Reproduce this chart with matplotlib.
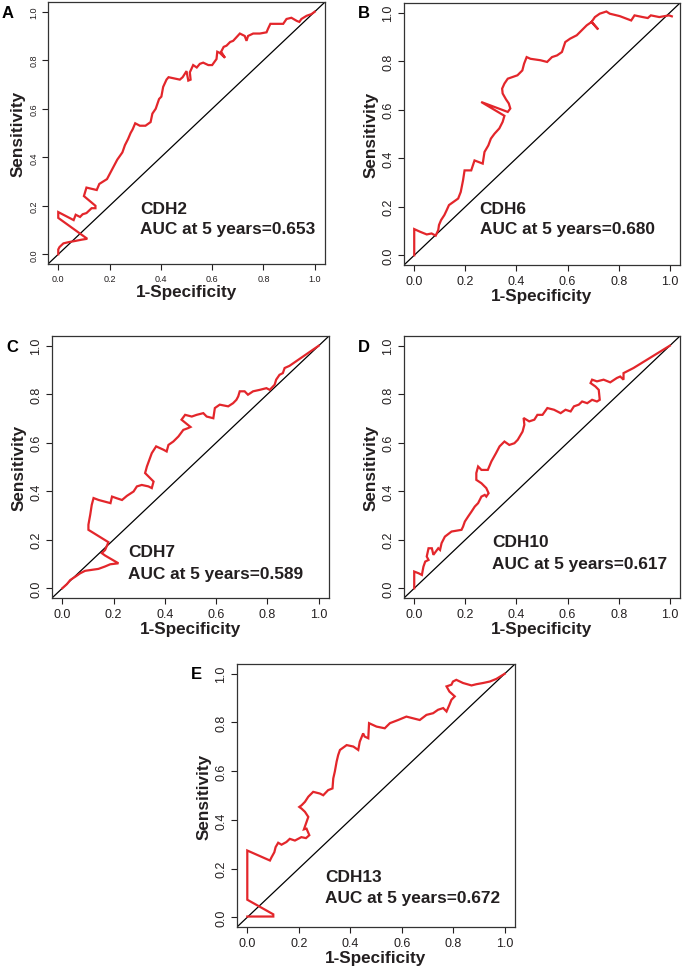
import numpy as np
import matplotlib
matplotlib.use("Agg")
import matplotlib.pyplot as plt

plt.rcParams['font.family'] = ['Liberation Sans', 'DejaVu Sans']

# ---------------------------------------------------------------
# ROC curves (1-Specificity, Sensitivity)
# ---------------------------------------------------------------
fpr_cdh2 = [0, 0, 0.005, 0.02, 0.04, 0.066, 0.09, 0.113, 0, 0, 0.06, 0.068, 0.085, 0.095,
            0.11, 0.13, 0.145, 0.145, 0.1, 0.11, 0.13, 0.15, 0.16, 0.175, 0.19, 0.2, 0.215,
            0.23, 0.25, 0.26, 0.272, 0.282, 0.29, 0.3, 0.318, 0.34, 0.36, 0.367, 0.38, 0.393,
            0.402, 0.409, 0.422, 0.43, 0.474, 0.485, 0.5, 0.507, 0.516, 0.513, 0.526, 0.54,
            0.552, 0.565, 0.585, 0.6, 0.617, 0.62, 0.63, 0.65, 0.635, 0.645, 0.656, 0.67,
            0.682, 0.695, 0.708, 0.727, 0.734, 0.74, 0.76, 0.786, 0.812, 0.818, 0.827, 0.85,
            0.877, 0.89, 0.909, 0.93, 0.94, 0.948, 0.968, 0.987, 1.0]
tpr_cdh2 = [0, 0.02, 0.03, 0.045, 0.05, 0.055, 0.06, 0.064, 0.15, 0.174, 0.141, 0.163, 0.154,
            0.165, 0.17, 0.19, 0.19, 0.2, 0.24, 0.275, 0.27, 0.265, 0.29, 0.3, 0.31, 0.33, 0.36,
            0.39, 0.42, 0.45, 0.475, 0.5, 0.515, 0.54, 0.53, 0.53, 0.545, 0.58, 0.6, 0.64,
            0.65, 0.69, 0.72, 0.73, 0.72, 0.73, 0.755, 0.716, 0.72, 0.75, 0.78, 0.77, 0.785,
            0.79, 0.78, 0.78, 0.805, 0.835, 0.83, 0.81, 0.835, 0.855, 0.86, 0.875, 0.88, 0.895,
            0.91, 0.9, 0.88, 0.9, 0.91, 0.91, 0.915, 0.93, 0.95, 0.95, 0.95, 0.97, 0.975, 0.962,
            0.958, 0.97, 0.983, 0.99, 1.0]

fpr_cdh6 = [0, 0, 0.023, 0.049, 0.068, 0.084, 0.094, 0.097, 0.105, 0.118, 0.127, 0.136,
            0.172, 0.182, 0.191, 0.197, 0.223, 0.236, 0.268, 0.275, 0.29, 0.3, 0.314, 0.333,
            0.346, 0.353, 0.262, 0.366, 0.376, 0.37, 0.359, 0.346, 0.344, 0.353, 0.366, 0.404,
            0.423, 0.43, 0.44, 0.455, 0.494, 0.52, 0.539, 0.559, 0.578, 0.591, 0.61, 0.636,
            0.655, 0.675, 0.694, 0.72, 0.694, 0.707, 0.726, 0.752, 0.765, 0.804, 0.849, 0.862,
            0.894, 0.914, 0.926, 0.959, 0.997, 1.008]
tpr_cdh6 = [0, 0.108, 0.097, 0.086, 0.09, 0.081, 0.104, 0.125, 0.145, 0.166, 0.186, 0.207,
            0.234, 0.261, 0.309, 0.35, 0.35, 0.391, 0.378, 0.426, 0.453, 0.481, 0.501, 0.523,
            0.55, 0.575, 0.632, 0.591, 0.605, 0.626, 0.643, 0.667, 0.687, 0.708, 0.728, 0.742,
            0.762, 0.79, 0.817, 0.81, 0.804, 0.797, 0.817, 0.824, 0.838, 0.879, 0.893, 0.907,
            0.927, 0.948, 0.962, 0.931, 0.962, 0.982, 0.996, 1.005, 0.996, 0.986, 0.968, 0.989,
            0.982, 0.978, 0.989, 0.982, 0.989, 0.985]

fpr_cdh7 = [0, 0.018, 0.031, 0.051, 0.07, 0.089, 0.115, 0.141, 0.167, 0.187, 0.219, 0.167,
            0.154, 0.167, 0.18, 0.102, 0.102, 0.109, 0.115, 0.122, 0.142, 0.188, 0.194, 0.213,
            0.233, 0.252, 0.278, 0.291, 0.31, 0.336, 0.349, 0.356, 0.323, 0.33, 0.349, 0.366,
            0.395, 0.407, 0.414, 0.433, 0.453, 0.472, 0.49, 0.5, 0.465, 0.479, 0.505, 0.524,
            0.55, 0.563, 0.589, 0.595, 0.614, 0.647, 0.666, 0.679, 0.686, 0.692, 0.711, 0.724,
            0.744, 0.77, 0.796, 0.809, 0.828, 0.834, 0.847, 0.86, 0.867, 0.886, 1.0]
tpr_cdh7 = [0, 0.017, 0.034, 0.048, 0.062, 0.072, 0.076, 0.08, 0.09, 0.099, 0.103, 0.135,
            0.145, 0.158, 0.19, 0.241, 0.262, 0.303, 0.344, 0.372, 0.364, 0.351, 0.378, 0.371,
            0.364, 0.381, 0.399, 0.42, 0.426, 0.42, 0.413, 0.44, 0.475, 0.502, 0.557, 0.585,
            0.571, 0.564, 0.591, 0.605, 0.626, 0.653, 0.66, 0.665, 0.695, 0.715, 0.708, 0.715,
            0.722, 0.708, 0.701, 0.743, 0.757, 0.75, 0.763, 0.777, 0.791, 0.812, 0.812, 0.798,
            0.812, 0.818, 0.825, 0.818, 0.839, 0.86, 0.88, 0.887, 0.908, 0.917, 1.0]

fpr_cdh10 = [0, 0, 0.017, 0.03, 0.036, 0.043, 0.056, 0.049, 0.056, 0.069, 0.075, 0.094, 0.101,
             0.107, 0.12, 0.146, 0.185, 0.191, 0.198, 0.211, 0.224, 0.237, 0.25, 0.263, 0.276,
             0.282, 0.291, 0.282, 0.263, 0.243, 0.243, 0.25, 0.263, 0.288, 0.302, 0.32, 0.334,
             0.353, 0.372, 0.392, 0.405, 0.424, 0.431, 0.428, 0.45, 0.47, 0.482, 0.502, 0.521,
             0.547, 0.573, 0.592, 0.612, 0.625, 0.644, 0.657, 0.677, 0.696, 0.715, 0.726, 0.722,
             0.709, 0.69, 0.696, 0.715, 0.741, 0.767, 0.793, 0.806, 0.819, 0.819, 0.858, 1.0]
tpr_cdh10 = [0, 0.069, 0.062, 0.055, 0.089, 0.11, 0.117, 0.131, 0.165, 0.165, 0.138, 0.165,
             0.158, 0.186, 0.213, 0.234, 0.241, 0.254, 0.275, 0.296, 0.316, 0.337, 0.351, 0.378,
             0.385, 0.378, 0.392, 0.413, 0.433, 0.447, 0.475, 0.502, 0.488, 0.488, 0.523, 0.557,
             0.585, 0.605, 0.591, 0.598, 0.612, 0.646, 0.674, 0.702, 0.688, 0.695, 0.715, 0.715,
             0.743, 0.736, 0.722, 0.736, 0.729, 0.75, 0.757, 0.77, 0.763, 0.777, 0.77, 0.777,
             0.818, 0.832, 0.846, 0.86, 0.853, 0.86, 0.849, 0.867, 0.873, 0.86, 0.887, 0.908, 1.0]

fpr_cdh13 = [0, 0.101, 0.101, 0, 0, 0.088, 0.094, 0.105, 0.11, 0.12, 0.133, 0.152, 0.165,
             0.185, 0.21, 0.228, 0.241, 0.23, 0.22, 0.23, 0.237, 0.224, 0.211, 0.202, 0.211,
             0.224, 0.237, 0.256, 0.282, 0.295, 0.314, 0.331, 0.334, 0.34, 0.347, 0.353, 0.36,
             0.386, 0.412, 0.431, 0.437, 0.45, 0.456, 0.47, 0.473, 0.502, 0.534, 0.554, 0.586,
             0.618, 0.644, 0.67, 0.696, 0.722, 0.741, 0.761, 0.774, 0.785, 0.793, 0.806, 0.785,
             0.774, 0.793, 0.799, 0.812, 0.838, 0.871, 0.89, 0.916, 0.942, 0.968, 1.0]
tpr_cdh13 = [0.003, 0.003, 0.012, 0.072, 0.274, 0.233, 0.246, 0.267, 0.288, 0.306, 0.298,
             0.309, 0.322, 0.315, 0.329, 0.325, 0.337, 0.364, 0.361, 0.391, 0.412, 0.433, 0.446,
             0.453, 0.46, 0.474, 0.495, 0.515, 0.508, 0.501, 0.522, 0.529, 0.57, 0.598, 0.639,
             0.666, 0.687, 0.707, 0.701, 0.687, 0.721, 0.755, 0.742, 0.735, 0.797, 0.783, 0.776,
             0.797, 0.81, 0.824, 0.817, 0.81, 0.831, 0.838, 0.852, 0.859, 0.845, 0.872, 0.893,
             0.907, 0.927, 0.948, 0.955, 0.968, 0.975, 0.962, 0.952, 0.957, 0.962, 0.968, 0.979,
             1.0]

genes = ["CDH2", "CDH6", "CDH7", "CDH10", "CDH13"]
aucs = ["0.653", "0.680", "0.589", "0.617", "0.672"]
letters = ["A", "B", "C", "D", "E"]
curves = [(fpr_cdh2, tpr_cdh2), (fpr_cdh6, tpr_cdh6), (fpr_cdh7, tpr_cdh7),
          (fpr_cdh10, tpr_cdh10), (fpr_cdh13, tpr_cdh13)]

# ---------------------------------------------------------------
# layout (pixel boxes: left, top, right, bottom) on a 685x970 canvas
# ---------------------------------------------------------------
W, H = 685, 970
boxes = [(48, 3, 325, 265), (404, 4, 680, 266), (52, 337, 329, 599),
         (404, 337, 680, 599), (237, 665, 515, 928)]
text_pos = [(0.32, 0.19, 0.107), (0.256, 0.193, 0.111), (0.257, 0.153, 0.062),
            (0.306, 0.194, 0.103), (0.302, 0.169, 0.083)]
tick_sizes = [6.5, 9, 9, 9, 9]

RED = "#e3262b"
DARK = "#231f20"

fig = plt.figure(figsize=(W / 100, H / 100), dpi=100)

for i, (fpr, tpr) in enumerate(curves):
    l, t, r, b = boxes[i]
    ax = fig.add_axes([l / W, 1 - b / H, (r - l) / W, (b - t) / H])

    ax.plot([-0.1, 1.1], [-0.1, 1.1], color="black", linewidth=0.9)
    ax.plot(fpr, tpr, color=RED, linewidth=1.6, solid_joinstyle="miter")

    ax.set_xlim(-0.04, 1.04)
    ax.set_ylim(-0.04, 1.04)
    ticks = [0, 0.2, 0.4, 0.6, 0.8, 1.0]
    ax.set_xticks(ticks)
    ax.set_yticks(ticks)
    ax.set_xticklabels([f"{v:.1f}" for v in ticks])
    ax.set_yticklabels([f"{v:.1f}" for v in ticks], rotation=90, va="center")
    ax.tick_params(direction="out", length=4, width=0.8, pad=3,
                   labelsize=tick_sizes[i], colors=DARK)
    for sp in ax.spines.values():
        sp.set_linewidth(0.9)
        sp.set_color("#333333")

    ax.set_xlabel("1-Specificity", fontsize=12.3, fontweight="bold", color=DARK, labelpad=1)
    ax.set_ylabel("Sensitivity", fontsize=12.3, fontweight="bold", color=DARK, labelpad=3)

    tx, ty1, ty2 = text_pos[i]
    ax.text(tx, ty1, genes[i], fontsize=12.4, fontweight="bold", color=DARK, va="center")
    ax.text(tx, ty2, f"AUC at 5 years={aucs[i]}", fontsize=12.4, fontweight="bold",
            color=DARK, va="center")

    fig.text((l - 46) / W, 1 - (t + 10) / H, letters[i], fontsize=12, fontweight="bold",
             color="black", va="center", ha="left")

fig.savefig("out.png", dpi=100)
